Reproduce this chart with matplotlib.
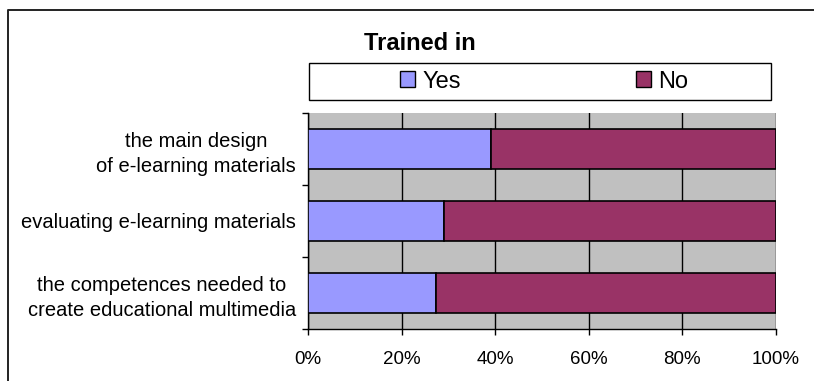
import matplotlib
matplotlib.use("Agg")
import matplotlib.pyplot as plt
from matplotlib.patches import Patch
from matplotlib.lines import Line2D
from matplotlib.ticker import FixedLocator, PercentFormatter

plt.rcParams['font.family'] = ['Liberation Sans', 'DejaVu Sans']

# Survey topics, listed top to bottom
categories = [
    "the main design\nof e-learning materials",
    "evaluating e-learning materials",
    "the competences needed to\ncreate educational multimedia",
]
yes_pct = [39.0, 29.1, 27.3]
no_pct = [100 - v for v in yes_pct]
series_names = ["Yes", "No"]
x_ticks = [0, 20, 40, 60, 80, 100]
title = "Trained in"

yes_color = "#9999FF"
no_color = "#993366"
bg_color = "#C0C0C0"

W, H = 814, 381
fig = plt.figure(figsize=(W / 100, H / 100), dpi=100)

ax = fig.add_axes([308.3 / W, 1 - 329 / H, (775.7 - 308.3) / W, (329 - 113) / H])
ax.set_facecolor(bg_color)

n = len(categories)
ypos = [n - 1 - i for i in range(n)]
bar_h = 0.55
ax.barh(ypos, yes_pct, height=bar_h, color=yes_color, edgecolor="black", linewidth=1.2, zorder=3)
ax.barh(ypos, no_pct, left=yes_pct, height=bar_h, color=no_color, edgecolor="black", linewidth=1.2, zorder=3)

ax.set_xlim(0, 100)
ax.set_ylim(-0.5, n - 0.5)

ax.xaxis.set_major_locator(FixedLocator(x_ticks))
ax.xaxis.set_major_formatter(PercentFormatter(decimals=0))
ax.grid(axis="x", color="black", linewidth=1.0, zorder=1)
ax.set_axisbelow(True)

# category boundaries carry the tick marks, centres carry the labels
ax.yaxis.set_major_locator(FixedLocator([k - 0.5 for k in range(n + 1)]))
ax.yaxis.set_major_formatter(plt.NullFormatter())
ax.yaxis.set_minor_locator(FixedLocator(ypos))
labels = ax.set_yticklabels(categories, minor=True, fontsize=14.5, multialignment="center")
for lab in labels:
    lab.set_linespacing(1.4)
ax.tick_params(axis="y", which="minor", length=0, pad=9)
ax.tick_params(axis="y", which="major", length=4, width=1, direction="out")
ax.tick_params(axis="x", which="major", length=4, width=1, direction="out", pad=12, labelsize=13.5)

for side in ("top", "right"):
    ax.spines[side].set_visible(False)
for side in ("left", "bottom"):
    ax.spines[side].set_linewidth(1.0)
    ax.spines[side].set_color("black")

# legend box spanning the plot width
box = plt.Rectangle((309 / W, 1 - 100 / H), (771 - 309) / W, (100 - 63) / H,
                    transform=fig.transFigure, facecolor="white", edgecolor="black",
                    linewidth=1.0)
fig.patches.append(box)
handles = [Patch(facecolor=yes_color, edgecolor="black", linewidth=1.0, label=series_names[0]),
           Patch(facecolor=no_color, edgecolor="black", linewidth=1.0, label=series_names[1])]
fig.legend(handles=handles, loc="center", bbox_to_anchor=(544 / W, 1 - 81.5 / H),
           ncol=2, frameon=False, fontsize=17, handlelength=0.64, handleheight=0.64,
           handletextpad=0.3, columnspacing=7.4, borderaxespad=0, borderpad=0)

fig.text(420 / W, 1 - 43 / H, title, ha="center", va="center", fontsize=17, fontweight="bold")

# outer frame on the left and top edges
fig.lines.append(Line2D([7.5 / W, 7.5 / W, 1.0], [0.0, 1 - 9.5 / H, 1 - 9.5 / H],
                        transform=fig.transFigure, color="#222222", linewidth=1.4))

fig.savefig("out.png", dpi=100)
